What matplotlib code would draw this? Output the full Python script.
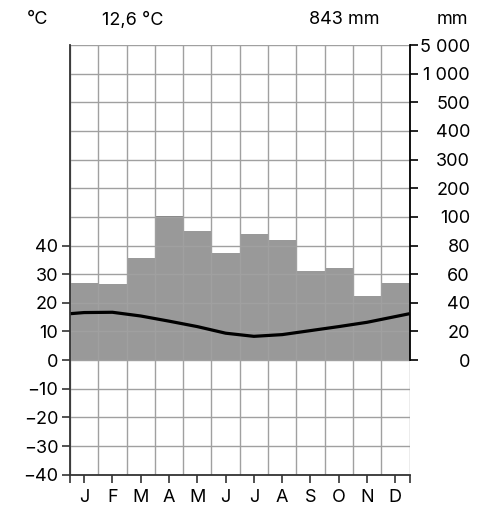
import numpy as np
import matplotlib.pyplot as plt

plt.rcParams['font.family'] = ['Inter', 'Liberation Sans', 'DejaVu Sans']

months = ["J", "F", "M", "A", "M", "J", "J", "A", "S", "O", "N", "D"]
precip_mm = [54, 53, 71, 104, 90, 75, 88, 84, 62, 64, 45, 54]
temp_c = [16.6, 16.7, 15.4, 13.6, 11.7, 9.4, 8.3, 8.9, 10.3, 11.7, 13.2, 15.2]
temp_edge = 16.2  # value drawn at the left and right border
mean_temp_label = "12,6 °C"
total_precip_label = "843 mm"
mm_labels = ["0", "20", "40", "60", "80", "100", "200", "300", "400", "500", "1 000", "5 000"]

FS = 13


def mm_to_axis(mm):
    # 20 mm per 10 °C up to 100 mm, then 100 mm per grid step
    mm = np.asarray(mm, dtype=float)
    return np.where(mm <= 100, mm / 2.0, 50 + (mm - 100) / 10.0)


fig = plt.figure(figsize=(4.92, 5.2), dpi=100)
ax = fig.add_axes([70 / 492, 1 - 474.7 / 520, 339.5 / 492, 429.7 / 520])

x = np.arange(12) + 0.5
bar_col = "#999999"
heights = mm_to_axis(precip_mm)
ax.bar(x, np.minimum(heights, 50), width=1.0, color=bar_col, zorder=1, linewidth=0)
over = np.maximum(heights - 50, 0)
ax.bar(x, over, bottom=50, width=1.0, color="#858585", zorder=1, linewidth=0)

# grid
for gx in range(0, 13):
    ax.axvline(gx, color="#a0a0a0", lw=1.0, zorder=2)
for gy in range(-40, 111, 10):
    ax.axhline(gy, color="#a0a0a0", lw=1.0, zorder=2)

# temperature line
tx = np.concatenate([[0], x, [12]])
ty = np.concatenate([[temp_edge], temp_c, [temp_edge]])
ax.plot(tx, ty, color="black", lw=2.3, zorder=4, solid_capstyle="butt")

ax.set_xlim(0, 12)
ax.set_ylim(-40, 110)

for s in ["top", "right"]:
    ax.spines[s].set_visible(False)
for s in ["left", "bottom"]:
    ax.spines[s].set_color("#333333")
    ax.spines[s].set_linewidth(1.3)
    ax.spines[s].set_zorder(5)

# right spine only from 0 to top
ax.plot([12, 12], [0, 110], color="black", lw=1.3, zorder=5, clip_on=False)

ax.set_yticks(range(-40, 41, 10))
ax.set_yticklabels([str(v).replace("-", "\u2212") for v in range(-40, 41, 10)])
ax.tick_params(axis="y", length=5.5, width=1.2, color="#333333", labelsize=FS, pad=3)

ax.set_xticks(np.concatenate([[0], x, [12]]))
ax.set_xticklabels([""] + months + [""])
ax.tick_params(axis="x", length=5.5, width=1.2, color="#333333", labelsize=FS, pad=5)

ax2 = ax.twinx()
ax2.set_ylim(-40, 110)
for s in ax2.spines.values():
    s.set_visible(False)
ax2.set_yticks(range(0, 111, 10))
ax2.set_yticklabels(mm_labels)
ax2.tick_params(axis="y", length=5.5, width=1.2, color="black", labelsize=FS, pad=38)
for lab in ax2.get_yticklabels():
    lab.set_horizontalalignment("right")

ty_top = 1 - 20 / 520
fig.text(38 / 492, ty_top, "°C", ha="center", va="center", fontsize=FS)
fig.text(133 / 492, ty_top, mean_temp_label, ha="center", va="center", fontsize=FS)
fig.text(344 / 492, ty_top, total_precip_label, ha="center", va="center", fontsize=FS)
fig.text(452 / 492, ty_top, "mm", ha="center", va="center", fontsize=FS)

fig.savefig("out.png", dpi=100)
